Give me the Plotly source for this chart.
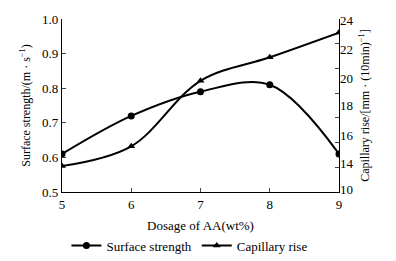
import plotly.graph_objects as go

dosage = [5, 6, 7, 8, 9]
surface_strength = [0.61, 0.72, 0.79, 0.81, 0.61]
capillary_rise = [12.1, 13.7, 19.0, 20.9, 22.9]

x_ticks = [5, 6, 7, 8, 9]
left_ticks = [0.5, 0.6, 0.7, 0.8, 0.9, 1.0]
left_labels = ["0.5", "0.6", "0.7", "0.8", "0.9", "1.0"]
right_tick_marks = [10, 12, 14, 16, 18, 20, 22, 24]
right_label_pos = [10.2, 12.3, 14.6, 17.0, 19.2, 21.5, 23.9]
right_labels = ["10", "14", "16", "18", "20", "22", "24"]

FONT = "Liberation Serif"
fig = go.Figure()
fig.add_trace(go.Scatter(
    x=dosage, y=surface_strength, name="Surface strength",
    mode="lines+markers", line=dict(color="black", width=2, shape="spline"),
    marker=dict(symbol="circle", size=7, color="black"), yaxis="y"))
fig.add_trace(go.Scatter(
    x=dosage, y=capillary_rise, name="Capillary rise",
    mode="lines+markers", line=dict(color="black", width=2, shape="spline"),
    marker=dict(symbol="triangle-up", size=7, color="black"), yaxis="y2"))
fig.add_trace(go.Scatter(
    x=dosage, y=capillary_rise, mode="lines", line=dict(width=0),
    hoverinfo="skip", showlegend=False, opacity=0, yaxis="y3"))

# page body has an 8px margin, so the figure is 8px smaller on each axis
fig.update_layout(
    width=388, height=253,
    margin=dict(l=54, r=57, t=11, b=69, autoexpand=False),
    paper_bgcolor="white", plot_bgcolor="white",
    font=dict(family=FONT, size=13, color="black"),
    showlegend=True,
    legend=dict(orientation="h", x=0.46, xanchor="center", y=-0.31, yanchor="middle",
                font=dict(family=FONT, size=13), itemwidth=30, tracegroupgap=0,
                bgcolor="rgba(0,0,0,0)"),
    xaxis=dict(range=[5, 9], tickvals=x_ticks, ticks="inside", ticklen=4,
               showline=True, linecolor="black", linewidth=1.2, showgrid=False,
               zeroline=False, tickfont=dict(size=13), automargin=False,
               title=dict(text="Dosage of AA(wt%)", font=dict(size=13), standoff=10)),
    yaxis=dict(range=[0.5, 1.0], tickvals=left_ticks, ticktext=left_labels,
               ticks="inside", ticklen=4, showline=True, linecolor="black",
               linewidth=1.2, showgrid=False, zeroline=False, tickfont=dict(size=13),
               automargin=False,
               title=dict(text="Surface strength/(m · s<sup>−1</sup>)", font=dict(size=12), standoff=8)),
    yaxis2=dict(range=[10, 24], overlaying="y", side="right", anchor="x",
                tickvals=right_tick_marks, ticks="inside", ticklen=4,
                showticklabels=False, showline=True, linecolor="black",
                linewidth=1.2, showgrid=False, zeroline=False, automargin=False),
    yaxis3=dict(range=[10, 24], overlaying="y", side="right", anchor="x",
                tickvals=right_label_pos, ticktext=right_labels, ticks="",
                showline=False, showgrid=False, zeroline=False,
                tickfont=dict(size=13), automargin=False,
                title=dict(text="Capillary rise/[mm · (10min)<sup>−1</sup>]", font=dict(size=12), standoff=8)),
)
fig.write_html("out.html")
